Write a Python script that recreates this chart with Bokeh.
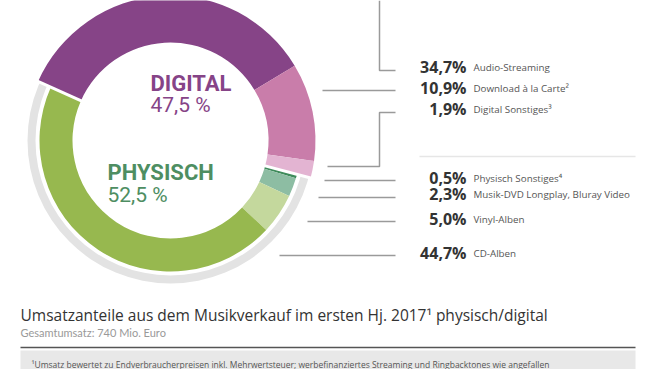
import numpy as np
from bokeh.plotting import figure
from bokeh.models import Range1d
from bokeh.core.properties import value
from bokeh.embed import file_html
from bokeh.resources import INLINE

# ---------------- data ----------------
segments = ["Audio-Streaming", "Download à la Carte²", "Digital Sonstiges³",
            "Physisch Sonstiges⁴", "Musik-DVD Longplay, Bluray Video",
            "Vinyl-Alben", "CD-Alben"]
shares = [34.7, 10.9, 1.9, 0.5, 2.3, 5.0, 44.7]
groups = ["digital", "digital", "digital", "physisch", "physisch", "physisch", "physisch"]
group_names = ["DIGITAL", "PHYSISCH"]
group_shares = [47.5, 52.5]
title_text = "Umsatzanteile aus dem Musikverkauf im ersten Hj. 2017¹ physisch/digital"
subtitle_text = "Gesamtumsatz: 740 Mio. Euro"
footnote_text = ("¹Umsatz bewertet zu Endverbraucherpreisen inkl. Mehrwertsteuer; "
                 "werbefinanziertes Streaming und Ringbacktones wie angefallen")

# ---------------- styles / layout ----------------
seg_colors = ["#864487", "#C97DAA", "#E3B4D2", "#3F8B5B", "#8DBDA3", "#C4D89D", "#97B84F"]
group_colors = {"digital": "#864487", "physisch": "#4E8E62"}

W, H = 660, 369


def X(x):
    return x


def Y(y):
    return H - y


CX, CY = X(170), Y(140)
R_IN = 98
R_OUT = {"digital": 145, "physisch": 131}
START_DEG = 156

label_rows = [66, 87, 108, 177, 193, 218, 252]
PCT_RIGHT = 466
LBL_LEFT = 473

leaders = [
    ([379, 379, 395], [0, 70, 70]),
    ([322, 395], [90, 90]),
    ([395, 379, 379, 327], [112, 112, 166, 166]),
    ([324, 395], [180, 180]),
    ([318, 395], [197, 197]),
    ([307, 395], [221, 221]),
    ([279, 395], [255, 255]),
]

p = figure(width=W, height=H, output_backend="svg", toolbar_location=None,
           x_range=Range1d(0, W), y_range=Range1d(0, H),
           x_axis_location=None, y_axis_location=None, min_border=0,
           background_fill_color="white", border_fill_color="white")
p.outline_line_color = None
p.grid.visible = False

# ---------------- donut ----------------
cum = np.concatenate([[0.0], np.cumsum(shares)])
angles = np.radians(START_DEG) - cum / 100.0 * 2 * np.pi

# grey outer ring
p.annulus(x=CX, y=CY, inner_radius=135, outer_radius=143,
          fill_color="#E3E3E3", line_color=None)

outer = [R_OUT[g] for g in groups]
p.annular_wedge(x=[CX] * len(shares), y=[CY] * len(shares),
                inner_radius=R_IN, outer_radius=outer,
                start_angle=angles[1:], end_angle=angles[:-1],
                fill_color=seg_colors, line_color=None)

# white separators between digital and physical
bnd = [angles[0], angles[3]]
p.segment(x0=[CX + 94 * np.cos(a) for a in bnd], y0=[CY + 94 * np.sin(a) for a in bnd],
          x1=[CX + 150 * np.cos(a) for a in bnd], y1=[CY + 150 * np.sin(a) for a in bnd],
          line_color="white", line_width=3)


def fmt(v, sep=""):
    return f"{v:.1f}".replace(".", ",") + sep + "%"


GF = value("Roboto")
# group labels in the centre
p.text(x=[X(150)], y=[Y(82.5)], text=[group_names[0]], text_font=GF,
       text_font_style="bold", text_font_size="22px", text_color=group_colors["digital"],
       text_baseline="middle", text_align="left")
p.text(x=[X(150)], y=[Y(104.5)], text=[fmt(group_shares[0], " ")], text_font=GF,
       text_font_size="21px", text_color=group_colors["digital"],
       text_baseline="middle", text_align="left")
p.text(x=[X(107)], y=[Y(171.5)], text=[group_names[1]], text_font=GF,
       text_font_style="bold", text_font_size="22px", text_color=group_colors["physisch"],
       text_baseline="middle", text_align="left")
p.text(x=[X(107)], y=[Y(194)], text=[fmt(group_shares[1], " ")], text_font=GF,
       text_font_size="21px", text_color=group_colors["physisch"],
       text_baseline="middle", text_align="left")

# leader lines
p.multi_line(xs=[[X(v) for v in lx] for lx, ly in leaders],
             ys=[[Y(v) for v in ly] for lx, ly in leaders],
             line_color="#9A9A9A", line_width=1.5)
p.line(x=[X(419), X(635)], y=[Y(156), Y(156)], line_color="#E6E6E6", line_width=1.5)

# right-hand labels
p.text(x=[X(PCT_RIGHT)] * len(shares), y=[Y(v) for v in label_rows],
       text=[fmt(v) for v in shares], text_font=value("Open Sans"), text_font_style="bold",
       text_font_size="16px", text_color="#333333", text_baseline="middle", text_align="right")
p.text(x=[X(LBL_LEFT)] * len(shares), y=[Y(v + 1) for v in label_rows],
       text=segments, text_font=value("Open Sans"),
       text_font_size="9.8px", text_color="#555555", text_baseline="middle", text_align="left")

# title, subtitle, footer
p.text(x=[X(20)], y=[Y(314)], text=[title_text], text_font=value("Open Sans"),
       text_font_size="15.5px", text_color="#333333", text_baseline="middle", text_align="left")
p.text(x=[X(20)], y=[Y(332)], text=[subtitle_text], text_font=value("Lato"),
       text_font_size="11px", text_color="#999999", text_baseline="middle", text_align="left")
p.line(x=[X(20), X(635)], y=[Y(347), Y(347)], line_color="#555555", line_width=1.5)
p.quad(left=[X(20)], right=[X(635)], top=[Y(350)], bottom=[0],
       fill_color="#E8E8E8", line_color=None)
p.text(x=[X(31)], y=[Y(364)], text=[footnote_text], text_font=value("Open Sans"),
       text_font_size="8.5px", text_color="#555555", text_baseline="middle", text_align="left")

open("out.html", "w").write(file_html(p, INLINE))
